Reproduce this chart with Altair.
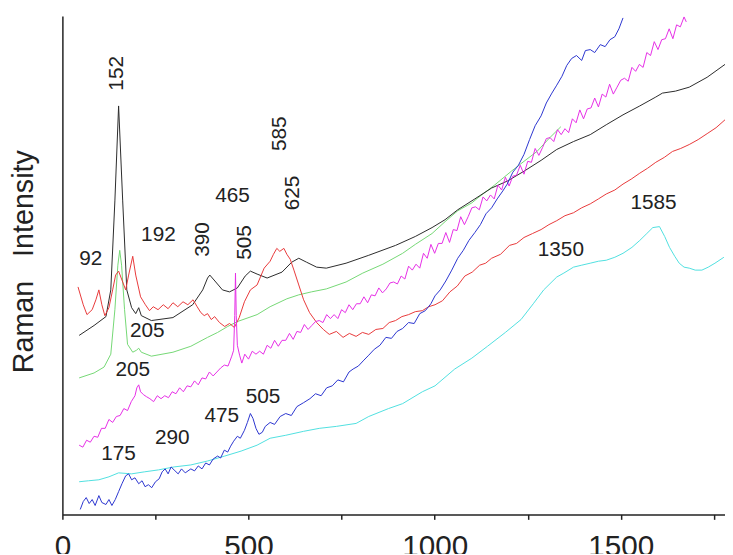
import altair as alt
import pandas as pd

# ---- data (wavenumber in cm-1, intensity in arbitrary units) ----
black_x = [45, 85, 117, 130, 141, 151, 162, 173, 186, 197, 205, 212, 239, 297, 350, 377, 390, 396, 412, 430, 449, 470, 491, 505, 523, 550, 590, 616, 635, 656, 683, 709, 762, 823, 895, 948, 993, 1028, 1062, 1108, 1153, 1195, 1240, 1286, 1328, 1373, 1418, 1461, 1506, 1551, 1594, 1612, 1647, 1684, 1732, 1780]
black_y = [180, 190, 199, 226, 316, 412, 316, 226, 208, 202, 208, 200, 195, 198, 211, 226, 238, 241, 234, 226, 224, 228, 240, 245, 242, 238, 244, 254, 258, 254, 249, 248, 253, 261, 271, 280, 289, 297, 307, 318, 329, 336, 346, 357, 368, 376, 383, 393, 403, 412, 421, 425, 427, 431, 441, 454]

green_x = [45, 85, 112, 130, 141, 149, 154, 159, 167, 175, 189, 199, 205, 212, 239, 297, 345, 390, 417, 444, 470, 523, 558, 603, 635, 669, 709, 762, 807, 861, 914, 948, 993, 1028, 1062, 1100, 1116, 1161, 1206, 1240, 1275, 1307, 1339]
green_y = [137, 142, 148, 161, 206, 251, 266, 251, 206, 171, 163, 165, 167, 163, 159, 163, 169, 178, 183, 189, 194, 201, 209, 217, 221, 224, 227, 234, 243, 252, 263, 272, 283, 295, 306, 314, 319, 332, 346, 356, 366, 379, 391]

red_x = [42, 56, 66, 80, 90, 98, 106, 114, 125, 135, 143, 151, 162, 170, 178, 189, 197, 210, 223, 234, 244, 257, 271, 284, 297, 310, 324, 337, 351, 362, 372, 381, 390, 400, 409, 422, 436, 449, 462, 475, 489, 505, 523, 542, 558, 567, 576, 584, 595, 603, 612, 622, 635, 648, 664, 683, 701, 717, 736, 754, 771, 789, 806, 823, 842, 861, 878, 895, 912, 930, 948, 967, 984, 1001, 1021, 1041, 1061, 1081, 1101, 1121, 1137, 1153, 1177, 1201, 1220, 1240, 1263, 1286, 1307, 1328, 1350, 1373, 1395, 1418, 1440, 1461, 1484, 1506, 1528, 1551, 1572, 1594, 1617, 1639, 1661, 1684, 1708, 1732, 1756, 1780]
red_y = [229, 211, 201, 206, 216, 226, 211, 200, 208, 226, 241, 245, 234, 226, 241, 260, 241, 219, 211, 205, 209, 206, 211, 207, 213, 209, 214, 211, 216, 209, 203, 200, 202, 196, 199, 193, 189, 192, 188, 198, 214, 226, 231, 248, 255, 262, 268, 265, 268, 262, 257, 246, 231, 216, 203, 193, 186, 181, 184, 178, 182, 179, 183, 181, 186, 187, 193, 195, 199, 201, 204, 205, 209, 211, 215, 224, 230, 240, 244, 251, 253, 258, 262, 271, 273, 279, 283, 287, 292, 296, 301, 304, 309, 313, 318, 323, 327, 333, 338, 344, 349, 355, 360, 366, 369, 373, 378, 384, 390, 398]

magenta_x = [45, 55, 65, 75, 85, 95, 105, 115, 125, 135, 145, 155, 165, 175, 185, 195, 200, 205, 210, 218, 226, 235, 245, 255, 265, 275, 285, 295, 305, 315, 325, 335, 345, 355, 365, 375, 385, 395, 405, 415, 425, 435, 445, 455, 460, 463, 465, 467, 470, 476, 482,
             490, 500, 510, 520, 530, 540, 550, 560, 570, 580, 590, 600, 610, 620, 630, 640, 650, 660, 670, 680, 690, 700, 710, 720, 730, 740, 750, 760, 770, 780, 790, 800, 810, 820, 830, 840, 850, 860, 870, 880, 890, 900,
             910, 920, 930, 940, 950, 960, 970, 980, 990, 1000, 1010, 1020, 1030, 1040, 1050, 1060, 1070, 1080, 1090, 1100, 1110, 1120, 1130, 1140, 1150, 1160, 1170, 1180, 1190, 1200, 1210, 1220, 1230, 1240, 1250, 1260, 1270, 1280, 1290, 1300,
             1310, 1320, 1330, 1340, 1350, 1360, 1370, 1380, 1390, 1400, 1410, 1420, 1430, 1440, 1450, 1460, 1470, 1480, 1490, 1500, 1510, 1520, 1530, 1540, 1550, 1560, 1570, 1580, 1590, 1600, 1610, 1620, 1630, 1640, 1650, 1660, 1670, 1676]
magenta_y = [69, 67, 74, 72, 78, 77, 86, 86, 95, 92, 98, 99, 106, 104, 113, 119, 127, 130, 123, 120, 118, 116, 113, 119, 116, 119, 117, 123, 121, 127, 123, 129, 128, 134, 130, 137, 136, 143, 139, 143, 147, 150, 149, 159, 165, 200, 243, 200, 170, 160, 152,
             161, 156, 164, 161, 164, 161, 170, 167, 175, 169, 175, 175, 182, 176, 184, 183, 191, 186, 190, 194, 195, 193, 201, 197, 201, 197, 206, 203, 211, 206, 212, 212, 219, 213, 221, 220, 228, 223, 227, 233, 234, 232,
             240, 237, 250, 246, 252, 248, 263, 258, 272, 263, 273, 273, 284, 274, 287, 286, 300, 292, 300, 309, 310, 307, 320, 316, 322, 318, 332, 327, 340, 331, 341, 342, 352, 343, 356, 355, 369, 362, 370, 379,
             380, 376, 388, 383, 389, 385, 399, 395, 408, 399, 409, 410, 420, 411, 424, 421, 434, 424, 431, 438, 440, 437, 451, 447, 454, 451, 466, 463, 477, 469, 479, 480, 490, 480, 494, 492, 502, 497]

blue_x = [48, 56, 64, 72, 80, 88, 98, 106, 117, 125, 133, 142, 151, 160, 170, 178, 186, 195, 205, 214, 222, 231, 240, 250, 260, 268, 276, 284, 292, 300, 311, 320, 330, 345, 355, 365, 375, 385, 395, 405, 417, 425, 435, 444, 452, 460, 470, 478, 489, 497, 505, 512, 520, 528, 537, 545, 558, 570, 585, 600, 615, 630, 648, 665, 680, 695, 710, 725, 740, 755, 770, 781, 795, 810, 823, 838, 853, 869, 884, 899, 914, 930, 945, 960, 975, 990, 1001, 1015, 1030, 1046, 1062, 1077, 1092, 1108, 1123, 1138, 1153, 1168, 1183, 1195, 1210, 1225, 1240, 1255, 1270, 1286, 1300, 1315, 1328, 1342, 1355, 1368, 1381, 1395, 1405, 1418, 1430, 1445, 1458, 1471, 1484, 1495, 1506]
blue_y = [4, 12, 16, 10, 14, 8, 18, 11, 9, 14, 8, 14, 22, 30, 38, 40, 34, 36, 30, 33, 27, 29, 26, 32, 35, 42, 45, 40, 47, 44, 40, 45, 41, 45, 43, 48, 45, 51, 49, 55, 58, 56, 64, 62, 68, 73, 78, 76, 84, 92, 101, 96, 86, 80, 82, 88, 92, 90, 98, 101, 99, 108, 112, 116, 121, 119, 127, 129, 135, 133, 143, 146, 149, 155, 160, 166, 170, 178, 177, 184, 187, 193, 192, 202, 205, 212, 220, 226, 235, 246, 258, 266, 276, 284, 292, 303, 309, 318, 326, 333, 345, 352, 363, 378, 392, 402, 415, 425, 433, 442, 453, 460, 463, 458, 468, 469, 466, 474, 472, 479, 482, 490, 501]

cyan_x = [45, 70, 98, 125, 151, 186, 220, 258, 300, 345, 390, 436, 480, 523, 558, 600, 648, 690, 736, 789, 823, 876, 914, 967, 1001, 1054, 1100, 1142, 1190, 1232, 1265, 1293, 1328, 1347, 1373, 1395, 1418, 1440, 1461, 1484, 1506, 1530, 1551, 1570, 1586, 1604, 1618, 1631, 1645, 1657, 1670, 1684, 1700, 1718, 1735, 1753, 1777]
cyan_y = [32, 33, 34, 37, 41, 40, 42, 44, 47, 49, 53, 58, 63, 69, 76, 79, 83, 86, 88, 91, 98, 106, 111, 123, 129, 146, 157, 169, 183, 196, 212, 226, 239, 243, 249, 251, 253, 255, 256, 259, 263, 269, 276, 283, 289, 290, 280, 269, 260, 253, 249, 248, 246, 246, 249, 253, 259]

series = [
    ("green", green_x, green_y, "#74d874"),
    ("black", black_x, black_y, "#2b2b2b"),
    ("red", red_x, red_y, "#e8393a"),
    ("cyan", cyan_x, cyan_y, "#4fe0e0"),
    ("magenta", magenta_x, magenta_y, "#e62ee6"),
    ("blue", blue_x, blue_y, "#2b35cf"),
]

label_text = ["152", "92", "192", "390", "465", "505", "585", "625", "205", "205", "175", "290", "475", "505", "1350", "1585"]
label_x = [147, 76, 258, 377, 457, 491, 584, 621, 228, 189, 151, 295, 428, 539, 1339, 1588]
label_y = [445, 257, 281, 277, 321, 274, 384, 324, 184, 145, 60, 76, 98, 118, 266, 314]
label_rot = [True, False, False, True, False, True, True, True, False, False, False, False, False, False, False, False]

xs = alt.Scale(domain=[0, 1780], nice=False, zero=False)
ys = alt.Scale(domain=[-1, 503], nice=False, zero=False)

x_axis = alt.Axis(
    values=[0, 250, 500, 750, 1000, 1250, 1500, 1750],
    labelExpr="datum.value % 500 === 0 ? format(datum.value, 'd') : ''",
    title=None, grid=False, tickSize=5, tickWidth=1.5, tickColor="#222",
    domainColor="#222", domainWidth=1.5, labelFontSize=30, labelPadding=13,
    labelColor="#222", labelFont="Liberation Sans", labelFlush=False, labelOverlap=False,
)
y_axis = alt.Axis(
    title="Raman\u00a0\u00a0\u00a0Intensity", labels=False, ticks=False, grid=False,
    domainColor="#222", domainWidth=1.5, titleFontSize=29, titleFont="Liberation Sans",
    titleFontWeight="normal", titleColor="#222", titleAngle=270, titleX=-39, titleY=248,
    titleAlign="center", titleBaseline="middle",
)

X = alt.X("wn:Q", scale=xs, axis=x_axis)
Y = alt.Y("I:Q", scale=ys, axis=y_axis)

layers = []
for name, sx, sy, col in series:
    df = pd.DataFrame({"wn": sx, "I": sy})
    layers.append(
        alt.Chart(df).mark_line(color=col, strokeWidth=1, clip=True).encode(x=X, y=Y)
    )

lab = pd.DataFrame({"t": label_text, "wn": label_x, "I": label_y, "rot": label_rot})
text_h = alt.Chart(lab).transform_filter("!datum.rot").mark_text(
    fontSize=21, font="Liberation Sans", color="#222", align="center", baseline="middle"
).encode(x=X, y=Y, text="t:N")
text_v = alt.Chart(lab).transform_filter("datum.rot").mark_text(
    fontSize=21, font="Liberation Sans", color="#222", align="center", baseline="middle", angle=270
).encode(x=X, y=Y, text="t:N")

chart = alt.layer(*layers, text_h, text_v).properties(
    width=670, height=504,
    autosize=alt.AutoSizeParams(type="none"),
    padding={"left": 55, "top": 5, "right": 0, "bottom": 37},
).configure_view(stroke=None)

chart.save("out.html", embed_options={"renderer": "svg", "actions": False})
